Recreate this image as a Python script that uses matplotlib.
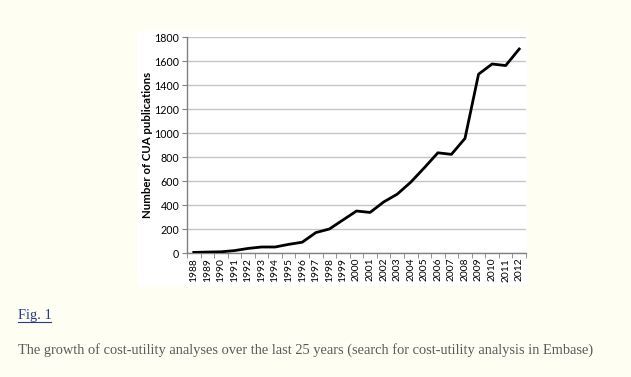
import numpy as np
import matplotlib
matplotlib.use("Agg")
import matplotlib.pyplot as plt
from matplotlib.patches import Rectangle
from matplotlib.lines import Line2D

# data
years = [str(y) for y in range(1988, 2013)]
publications = [5, 8, 10, 20, 38, 50, 50, 72, 90, 170, 200, 275, 350, 338,
                425, 490, 590, 710, 835, 822, 955, 1490, 1575, 1562, 1700]
yticks = [0, 200, 400, 600, 800, 1000, 1200, 1400, 1600, 1800]

caption_head = "Fig. 1"
caption_text = ("The growth of cost-utility analyses over the last 25 years "
                "(search for cost-utility analysis in Embase)")

bg = "#fffef3"
W, H = 631, 377

fig = plt.figure(figsize=(W / 100, H / 100), dpi=100, facecolor=bg)

# white box behind the chart
fig.patches.append(Rectangle((138 / W, 1 - 286 / H), (527 - 138) / W, (286 - 31) / H,
                             transform=fig.transFigure, facecolor="white",
                             edgecolor="none", zorder=-5))

ax = fig.add_axes([187 / W, 1 - 253 / H, (526 - 187) / W, (253 - 37) / H])
ax.set_zorder(2)
ax.set_facecolor("white")

x = np.arange(len(years))
ax.plot(x, publications, color="black", lw=2.0, solid_joinstyle="round", zorder=3)

ax.set_xlim(-0.5, len(years) - 0.5)
ax.set_ylim(0, 1800)
ax.set_yticks(yticks)
ax.set_yticklabels([str(v) for v in yticks], fontsize=7.7, family="Lato")
ax.yaxis.grid(True, color="#c4c4c4", lw=1.0)
ax.set_axisbelow(True)

# category labels centered, tick marks at the boundaries
ax.set_xticks(x)
ax.set_xticklabels(years, rotation=90, fontsize=7.4, family="Lato")
ax.tick_params(axis="x", which="major", length=0, pad=3.5)
ax.set_xticks(np.arange(len(years) + 1) - 0.5, minor=True)
ax.tick_params(axis="x", which="minor", length=3.5, color="#808080", direction="out")
ax.tick_params(axis="y", length=3.5, color="#808080", pad=2)

for s in ["top", "right"]:
    ax.spines[s].set_visible(False)
for s in ["left", "bottom"]:
    ax.spines[s].set_color("#808080")
    ax.spines[s].set_linewidth(1.0)

ax.set_ylabel("Number of CUA publications", fontsize=8.2, fontweight="bold",
              family="Lato", labelpad=1)

# caption below
fig.text(18 / W, 1 - 319 / H, caption_head, fontsize=10.4, family="Liberation Serif",
         color="#2b3b8c", va="baseline")
fig.lines.append(Line2D([18 / W, 51 / W], [1 - 322 / H, 1 - 322 / H],
                        transform=fig.transFigure, color="#2b3b8c", lw=0.8))
fig.text(18 / W, 1 - 354 / H, caption_text, fontsize=10.4, family="Liberation Serif",
         color="#5a5a5a", va="baseline")

fig.savefig("out.png", dpi=100, facecolor=bg)
